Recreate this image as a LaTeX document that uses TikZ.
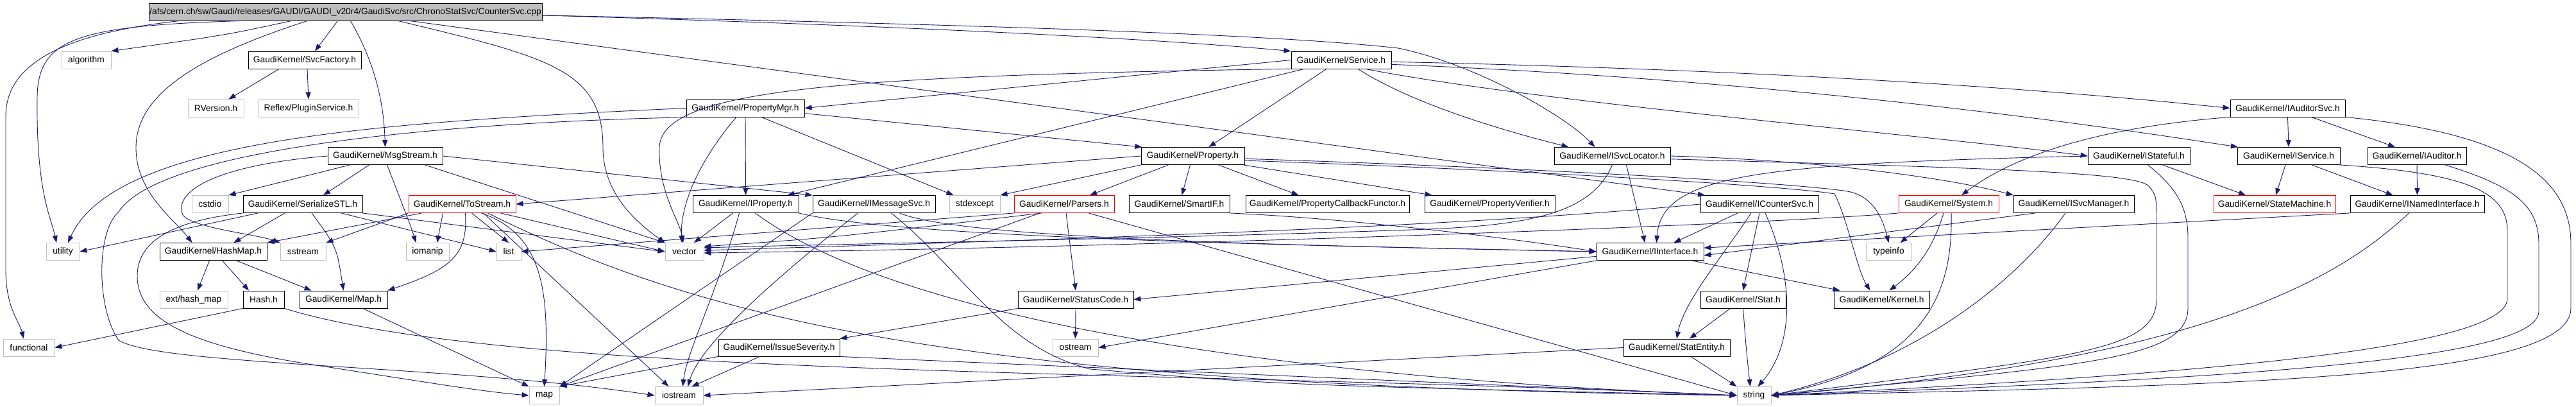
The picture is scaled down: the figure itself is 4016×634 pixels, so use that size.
\documentclass[tikz,border=0pt]{standalone}
\usepackage{fontspec}
\setmainfont{Liberation Sans}
\usetikzlibrary{arrows.meta}
\definecolor{incblue}{HTML}{191970}
\definecolor{sysgrey}{HTML}{BFBFBF}
\definecolor{badred}{HTML}{FF0000}

\tikzset{
  hdr/.style={draw=black, line width=0.9pt, rectangle, minimum height=27, inner sep=0pt,
    font=\fontsize{13.8}{16}\selectfont},
  syshdr/.style={hdr, draw=sysgrey},
  redhdr/.style={hdr, draw=badred},
  roothdr/.style={hdr, fill=sysgrey},
  inc/.style={draw=incblue, line width=0.9pt, -{Triangle[length=11pt,width=8pt]}}
}

\begin{document}
\begin{tikzpicture}[x=1pt, y=-1pt]
  \useasboundingbox (0,0) rectangle (4016,634);

  % Source file
  \node[roothdr, minimum width=613] (root) at (538.5,18.5) {/afs/cern.ch/sw/Gaudi/releases/GAUDI/GAUDI\_v20r4/GaudiSvc/src/ChronoStatSvc/CounterSvc.cpp};

  % Row 1
  \node[syshdr, minimum width=77] (algorithm) at (134.5,93.5) {algorithm};
  \node[hdr, minimum width=176] (svcfactory) at (475,93.5) {GaudiKernel/SvcFactory.h};
  \node[hdr, minimum width=156] (service) at (2091,93.5) {GaudiKernel/Service.h};

  % Row 2
  \node[syshdr, minimum width=87] (rversion) at (336.5,168.5) {RVersion.h};
  \node[syshdr, minimum width=156] (pluginsvc) at (481,168.5) {Reflex/PluginService.h};
  \node[hdr, minimum width=184] (propmgr) at (1162,168.5) {GaudiKernel/PropertyMgr.h};
  \node[hdr, minimum width=179] (iauditorsvc) at (3566.5,168.5) {GaudiKernel/IAuditorSvc.h};

  % Row 3
  \node[hdr, minimum width=179] (msgstream) at (600.5,243) {GaudiKernel/MsgStream.h};
  \node[hdr, minimum width=161] (property) at (1859.5,243) {GaudiKernel/Property.h};
  \node[hdr, minimum width=181] (isvclocator) at (2513.5,243) {GaudiKernel/ISvcLocator.h};
  \node[hdr, minimum width=159] (istateful) at (3334.5,243) {GaudiKernel/IStateful.h};
  \node[hdr, minimum width=160] (iservice) at (3568,243) {GaudiKernel/IService.h};
  \node[hdr, minimum width=154] (iauditor) at (3768,243) {GaudiKernel/IAuditor.h};

  % Row 4
  \node[syshdr, minimum width=57] (cstdio) at (327.5,318) {cstdio};
  \node[hdr, minimum width=186] (serialize) at (472,318) {GaudiKernel/SerializeSTL.h};
  \node[redhdr, minimum width=167] (tostream) at (720.5,318) {GaudiKernel/ToStream.h};
  \node[hdr, minimum width=165] (iproperty) at (1162.5,318) {GaudiKernel/IProperty.h};
  \node[hdr, minimum width=191] (imessagesvc) at (1362.5,318) {GaudiKernel/IMessageSvc.h};
  \node[syshdr, minimum width=79] (stdexcept) at (1519.5,318) {stdexcept};
  \node[redhdr, minimum width=156] (parsers) at (1659,318) {GaudiKernel/Parsers.h};
  \node[hdr, minimum width=157] (smartif) at (1838.5,318) {GaudiKernel/SmartIF.h};
  \node[hdr, minimum width=255] (propcallback) at (2069.5,318) {GaudiKernel/PropertyCallbackFunctor.h};
  \node[hdr, minimum width=203] (propverifier) at (2322.5,318) {GaudiKernel/PropertyVerifier.h};
  \node[hdr, minimum width=184] (icountersvc) at (2743,318) {GaudiKernel/ICounterSvc.h};
  \node[redhdr, minimum width=156] (system) at (3038,318) {GaudiKernel/System.h};
  \node[hdr, minimum width=188] (isvcmanager) at (3233,318) {GaudiKernel/ISvcManager.h};
  \node[redhdr, minimum width=190] (statemachine) at (3546,318) {GaudiKernel/StateMachine.h};
  \node[hdr, minimum width=209] (inamedif) at (3768.5,318) {GaudiKernel/INamedInterface.h};

  % Row 5
  \node[syshdr, minimum width=52] (utility) at (98,392) {utility};
  \node[hdr, minimum width=167] (hashmap) at (332.5,392) {GaudiKernel/HashMap.h};
  \node[syshdr, minimum width=71] (sstream) at (472.5,392) {sstream};
  \node[syshdr, minimum width=67] (iomanip) at (666.5,392) {iomanip};
  \node[syshdr, minimum width=38] (list) at (793,392) {list};
  \node[syshdr, minimum width=60] (vector) at (1067,392) {vector};
  \node[hdr, minimum width=167] (iinterface) at (2572.5,392) {GaudiKernel/IInterface.h};
  \node[syshdr, minimum width=71] (typeinfo) at (2944.5,392) {typeinfo};

  % Row 6
  \node[syshdr, minimum width=106] (exthashmap) at (302,466.5) {ext/hash\_map};
  \node[hdr, minimum width=64] (hash) at (411,466.5) {Hash.h};
  \node[hdr, minimum width=137] (gkmap) at (535.5,466.5) {GaudiKernel/Map.h};
  \node[hdr, minimum width=180] (statuscode) at (1677,466.5) {GaudiKernel/StatusCode.h};
  \node[hdr, minimum width=133] (stat) at (2717.5,466.5) {GaudiKernel/Stat.h};
  \node[hdr, minimum width=149] (kernel) at (2933.5,466.5) {GaudiKernel/Kernel.h};

  % Row 7
  \node[syshdr, minimum width=80] (functional) at (45,541.5) {functional};
  \node[hdr, minimum width=189] (issueseverity) at (1214.5,541.5) {GaudiKernel/IssueSeverity.h};
  \node[syshdr, minimum width=71] (ostream) at (1676.5,541.5) {ostream};
  \node[hdr, minimum width=166] (statentity) at (2614,541.5) {GaudiKernel/StatEntity.h};

  % Row 8
  \node[syshdr, minimum width=47] (stdmap) at (848.5,616) {map};
  \node[syshdr, minimum width=75] (iostream) at (1058.5,616) {iostream};
  \node[syshdr, minimum width=53] (string) at (2734.5,616) {string};

  % Includes of the source file
  \draw[inc] ([xshift=-258pt]root.south) .. controls (120,50) and (10,90) .. (9,180) -- (9,420) .. controls (9,480) and (30,500) .. ([xshift=-8pt]functional.north);
  \draw[inc] ([xshift=-160pt]root.south) .. controls (120,40) and (60,60) .. (58,150) .. controls (56,300) and (80,340) .. ([xshift=-10pt]utility.north);
  \draw[inc] ([xshift=-84pt]root.south) .. controls (350,55) .. (algorithm.north east);
  \draw[inc] ([xshift=-59pt]root.south) .. controls (300,90) and (212,150) .. (212,230) .. controls (212,300) and (270,340) .. ([xshift=-33pt]hashmap.north);
  \draw[inc] ([xshift=-12pt]root.south) -- ([xshift=16pt]svcfactory.north);
  \draw[inc] ([xshift=8pt]root.south) .. controls (580,90) and (598,150) .. (msgstream.north);
  \draw[inc] ([xshift=82pt]root.south) .. controls (860,90) and (940,110) .. (940,230) .. controls (940,300) and (990,345) .. (vector.north west);
  \draw[inc] ([xshift=100pt]root.south) -- ([xshift=-85pt]icountersvc.north);
  \draw[inc] (root.-1) .. controls (1400,40) and (1800,60) .. (service.170);
  \draw[inc] (root.-1) .. controls (1600,40) and (2000,55) .. (2180,75) .. controls (2300,100) and (2440,180) .. ([xshift=-27pt]isvclocator.north);

  % SvcFactory.h
  \draw[inc] ([xshift=-40pt]svcfactory.south) -- ([xshift=20pt]rversion.north);
  \draw[inc] ([xshift=4pt]svcfactory.south) -- (pluginsvc.north);

  % Service.h
  \draw[inc] (service.west) -- (propmgr.east);
  \draw[inc] (service.190) .. controls (1300,118) and (1030,140) .. (1028,230) .. controls (1026,300) and (1060,345) .. ([xshift=-2pt]vector.north);
  \draw[inc] ([xshift=-23pt]service.south) -- ([xshift=25pt]property.north);
  \draw[inc] ([xshift=-58pt]service.south) -- ([xshift=65pt]iproperty.north);
  \draw[inc] ([xshift=26pt]service.south) .. controls (2200,160) and (2330,200) .. ([xshift=-68pt]isvclocator.north);
  \draw[inc] ([xshift=38pt]service.south) .. controls (2400,160) and (3000,210) .. (istateful.west);
  \draw[inc] (service.-5) .. controls (2800,125) and (3300,200) .. (iservice.170);
  \draw[inc] (service.-2) .. controls (2800,110) and (3200,140) .. (iauditorsvc.west);

  % PropertyMgr.h
  \draw[inc] (propmgr.west) .. controls (600,190) and (180,215) .. ([xshift=8pt]utility.north);
  \draw[inc] (propmgr.190) .. controls (700,190) and (250,230) .. (185,330) .. controls (150,360) and (150,480) .. (185,530) .. controls (250,570) and (700,568) .. (iostream.west);
  \draw[inc] ([xshift=-14pt]propmgr.south) .. controls (1090,250) and (1060,320) .. ([xshift=-4pt]vector.north);
  \draw[inc] (propmgr.south) -- (iproperty.north);
  \draw[inc] ([xshift=25pt]propmgr.south) -- ([xshift=-33pt]stdexcept.north);
  \draw[inc] (propmgr.-5) -- (property.170);

  % IAuditorSvc.h
  \draw[inc] (iauditorsvc.south) -- (iservice.north);
  \draw[inc] ([xshift=37pt]iauditorsvc.south) -- ([xshift=-34pt]iauditor.north);
  \draw[inc] (iauditorsvc.south west) .. controls (3250,200) and (3130,250) .. ([xshift=20pt]system.north);
  \draw[inc] (iauditorsvc.south east) .. controls (3940,210) and (4008,290) .. (4008,380) -- (4008,480) .. controls (4008,590) and (3500,600) .. (string.east);

  % MsgStream.h
  \draw[inc] ([xshift=-55pt]msgstream.south) -- (cstdio.north east);
  \draw[inc] ([xshift=-25pt]msgstream.south) -- ([xshift=32pt]serialize.north);
  \draw[inc] (msgstream.west) .. controls (330,258) and (270,300) .. (285,335) .. controls (300,355) and (400,365) .. (sstream.north west);
  \draw[inc] ([xshift=3pt]msgstream.south) .. controls (620,300) and (640,350) .. ([xshift=-18pt]iomanip.north);
  \draw[inc] ([xshift=62pt]msgstream.south) -- (vector.north west);
  \draw[inc] (msgstream.east) -- (imessagesvc.north west);

  % Property.h
  \draw[inc] (property.west) -- (tostream.east);
  \draw[inc] (property.south west) -- (stdexcept.north east);
  \draw[inc] ([xshift=-38pt]property.south) -- ([xshift=40pt]parsers.north);
  \draw[inc] ([xshift=-4pt]property.south) -- ([xshift=4pt]smartif.north);
  \draw[inc] ([xshift=40pt]property.south) -- ([xshift=-45pt]propcallback.north);
  \draw[inc] (property.-10) -- ([xshift=-90pt]propverifier.north);
  \draw[inc] (property.-3) .. controls (2400,262) and (2800,285) .. (2880,298) .. controls (2920,305) and (2935,340) .. (typeinfo.north);
  \draw[inc] (property.-5) .. controls (2400,266) and (2790,290) .. (2860,302) .. controls (2880,340) and (2895,420) .. ([xshift=-18pt]kernel.north);

  % ISvcLocator.h
  \draw[inc] ([xshift=22pt]isvclocator.south) -- ([xshift=-8pt]iinterface.north);
  \draw[inc] (isvclocator.south) .. controls (2480,335) and (2380,352) .. (2200,358) .. controls (1800,372) and (1300,380) .. ([yshift=6pt]vector.east);
  \draw[inc] (isvclocator.east) .. controls (2850,250) and (3050,280) .. (isvcmanager.north west);
  \draw[inc] (isvclocator.-3) .. controls (3100,262) and (3330,268) .. (3350,290) .. controls (3362,305) .. (3362,350) -- (3362,465) .. controls (3362,545) and (3250,555) .. (string.east);

  % IStateful.h, IService.h, IAuditor.h
  \draw[inc] (istateful.west) .. controls (2750,255) and (2590,270) .. ([xshift=10pt]iinterface.north);
  \draw[inc] ([xshift=37pt]istateful.south) -- ([xshift=-45pt]statemachine.north);
  \draw[inc] ([xshift=14pt]istateful.south) .. controls (3390,290) and (3411,320) .. (3411,370) -- (3411,480) .. controls (3411,560) and (3250,570) .. (string.east);
  \draw[inc] ([xshift=-5pt]iservice.south) -- ([xshift=2pt]statemachine.north);
  \draw[inc] ([xshift=36pt]iservice.south) -- ([xshift=-38pt]inamedif.north);
  \draw[inc] (iservice.south east) .. controls (3850,270) and (3909,300) .. (3909,360) -- (3909,465) .. controls (3909,545) and (3400,585) .. (string.east);
  \draw[inc] (iauditor.south) -- (inamedif.north);
  \draw[inc] ([xshift=44pt]iauditor.south) .. controls (3920,290) and (3958,320) .. (3958,380) -- (3958,485) .. controls (3958,560) and (3500,590) .. (string.east);

  % SerializeSTL.h
  \draw[inc] ([xshift=-70pt]serialize.south) -- (utility.east);
  \draw[inc] ([xshift=-28pt]serialize.south) -- ([xshift=32pt]hashmap.north);
  \draw[inc] ([xshift=14pt]serialize.south) .. controls (525,385) .. (gkmap.north);
  \draw[inc] (serialize.south east) -- (vector.west);
  \draw[inc] ([xshift=60pt]serialize.south) -- (list.west);
  \draw[inc] (serialize.south west) .. controls (260,345) and (214,380) .. (214,430) .. controls (214,500) and (300,540) .. (500,570) .. controls (650,593) and (750,610) .. (stdmap.west);

  % ToStream.h
  \draw[inc] (tostream.south west) -- (sstream.north east);
  \draw[inc] ([xshift=-63pt]tostream.south) -- (hashmap.north east);
  \draw[inc] ([xshift=-30pt]tostream.south) -- ([xshift=15pt]iomanip.north);
  \draw[inc] ([xshift=15pt]tostream.south) -- (list.north);
  \draw[inc] ([xshift=5pt]tostream.south) .. controls (730,400) and (700,420) .. (gkmap.north east);
  \draw[inc] ([xshift=30pt]tostream.south) .. controls (845,365) and (858,450) .. (stdmap.north);
  \draw[inc] ([xshift=33pt]tostream.south) -- ([xshift=-16pt]iostream.north);
  \draw[inc] ([xshift=60pt]tostream.south) -- (vector.west);
  \draw[inc] ([xshift=40pt]tostream.south) .. controls (1100,500) and (1500,600) .. (string.west);

  % IProperty.h
  \draw[inc] ([xshift=-20pt]iproperty.south) -- ([xshift=15pt]vector.north);
  \draw[inc] ([xshift=-10pt]iproperty.south) .. controls (1120,450) and (1070,550) .. ([xshift=6pt]iostream.north);
  \draw[inc] ([xshift=15pt]iproperty.south) .. controls (1350,460) and (1800,580) .. (string.west);
  \draw[inc] (iproperty.south east) .. controls (1400,370) and (2000,382) .. (iinterface.west);

  % IMessageSvc.h
  \draw[inc] ([xshift=40pt]imessagesvc.south) .. controls (1500,372) and (2000,382) .. (iinterface.west);
  \draw[inc] ([xshift=-25pt]imessagesvc.south) .. controls (1200,440) and (1090,540) .. ([xshift=14pt]iostream.north);
  \draw[inc] (imessagesvc.south west) -- (stdmap.north east);
  \draw[inc] ([xshift=27pt]imessagesvc.south) .. controls (1500,420) and (1560,540) .. (1700,575) .. controls (2000,600) .. (string.west);

  % Parsers.h and SmartIF.h
  \draw[inc] ([xshift=3pt]parsers.south) -- (statuscode.north);
  \draw[inc] (parsers.south west) -- (list.east);
  \draw[inc] ([xshift=-35pt]parsers.south) .. controls (1300,370) .. ([yshift=8pt]vector.east);
  \draw[inc] ([xshift=-38pt]parsers.south) -- (stdmap.north east);
  \draw[inc] ([xshift=38pt]parsers.south) -- (string.west);
  \draw[inc] (smartif.south east) .. controls (2100,340) and (2350,370) .. (iinterface.west);

  % ICounterSvc.h
  \draw[inc] ([xshift=-34pt]icountersvc.south) -- ([xshift=37pt]iinterface.north);
  \draw[inc] (icountersvc.south) -- (stat.north);
  \draw[inc] ([xshift=-13pt]icountersvc.south) .. controls (2685,400) and (2625,470) .. (statentity.north);
  \draw[inc] ([xshift=9pt]icountersvc.south) .. controls (2800,440) and (2795,540) .. ([xshift=6pt]string.north);
  \draw[inc] (icountersvc.west) .. controls (2300,352) and (1700,372) .. ([yshift=2pt]vector.east);

  % System.h, ISvcManager.h, INamedInterface.h
  \draw[inc] ([xshift=-18pt]system.south) -- ([xshift=18pt]typeinfo.north);
  \draw[inc] ([xshift=-8pt]system.south) .. controls (3010,400) and (2975,430) .. ([xshift=12pt]kernel.north);
  \draw[inc] ([xshift=4pt]system.south) .. controls (3045,460) and (3000,570) .. (string.east);
  \draw[inc] (system.south west) .. controls (2750,350) and (1800,385) .. ([yshift=-2pt]vector.east);
  \draw[inc] ([xshift=-60pt]isvcmanager.south) -- (iinterface.-4);
  \draw[inc] ([xshift=-13pt]isvcmanager.south) .. controls (3150,430) and (3000,560) .. (string.east);
  \draw[inc] (inamedif.south west) -- (iinterface.4);
  \draw[inc] ([xshift=-13pt]inamedif.south) .. controls (3650,430) and (3450,560) .. (string.east);

  % IInterface.h and below
  \draw[inc] ([xshift=65pt]iinterface.south) -- ([xshift=-65pt]kernel.north);
  \draw[inc] (iinterface.185) -- (statuscode.east);
  \draw[inc] (iinterface.south west) -- (ostream.east);
  \draw[inc] (statuscode.south) -- (ostream.north);
  \draw[inc] (statuscode.south west) -- (issueseverity.north east);
  \draw[inc] (issueseverity.south west) -- (stdmap.north east);
  \draw[inc] ([xshift=-30pt]issueseverity.south) -- ([xshift=20pt]iostream.north);
  \draw[inc] (issueseverity.south east) -- (string.west);
  \draw[inc] ([xshift=-20pt]stat.south) -- ([xshift=20pt]statentity.north);
  \draw[inc] (stat.south) .. controls (2722,540) .. ([xshift=-6pt]string.north);
  \draw[inc] ([xshift=22pt]statentity.south) -- (string.north west);
  \draw[inc] (statentity.west) -- (iostream.east);

  % HashMap.h, Hash.h, Map.h
  \draw[inc] ([xshift=-6pt]hashmap.south) -- ([xshift=6pt]exthashmap.north);
  \draw[inc] ([xshift=14pt]hashmap.south) -- ([xshift=-23pt]hash.north);
  \draw[inc] ([xshift=36pt]hashmap.south) -- ([xshift=-50pt]gkmap.north);
  \draw[inc] (hash.south west) -- (functional.east);
  \draw[inc] (hash.south east) .. controls (800,590) and (1800,575) .. (string.west);
  \draw[inc] ([xshift=30pt]gkmap.south) -- (stdmap.north west);
\end{tikzpicture}
\end{document}
